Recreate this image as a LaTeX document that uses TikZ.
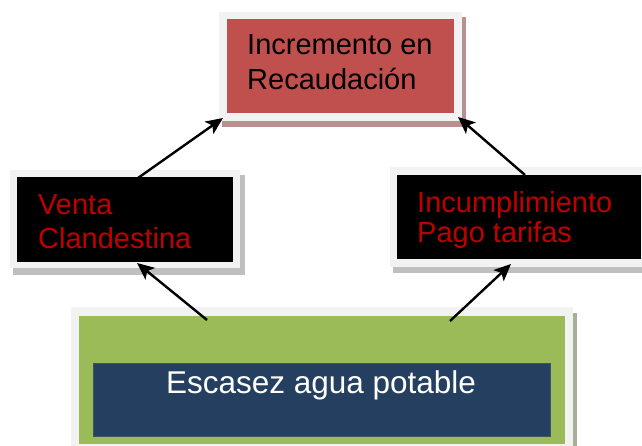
\documentclass[tikz,border=0pt]{standalone}
\usepackage{fontspec}
\setmainfont{Liberation Sans}
\usetikzlibrary{arrows.meta}
\definecolor{framegray}{HTML}{F2F2F2}
\definecolor{boxred}{HTML}{C0504D}
\definecolor{redshadow}{HTML}{B89090}
\definecolor{grayshadow}{HTML}{BFBFBF}
\definecolor{boxgreen}{HTML}{9BBB59}
\definecolor{greenshadow}{HTML}{A7B094}
\definecolor{boxblue}{HTML}{243F60}
\definecolor{textred}{HTML}{C00000}
\tikzset{
  framebox/.style={fill=framegray, draw=none, inner sep=0pt, outer sep=0pt},
  innerbox/.style={draw=none, inner sep=0pt, outer sep=0pt},
  lbl/.style={anchor=base west, inner sep=0pt, font=\fontsize{29}{33}\selectfont},
  conn/.style={line width=2.4pt, -{Stealth[length=17pt,width=15pt,inset=4pt]}}
}
\begin{document}
\begin{tikzpicture}[x=1pt,y=-1pt]
\useasboundingbox (0,0) rectangle (642,446);
\clip (0,0) rectangle (642,446);
\fill[white] (0,0) rectangle (642,446);
% top box
\fill[redshadow] (222,17) rectangle (466,127);
\node[framebox, minimum width=243pt, minimum height=109pt] (topframe) at (340.5,66.5) {};
\node[innerbox, fill=boxred, minimum width=227pt, minimum height=94pt] (topbox) at (340.5,66) {};
\node[lbl] (t1) at (247,55) {Incremento en};
\node[lbl] (t2) at (247,90) {Recaudación};
% left box
\fill[grayshadow] (13,175) rectangle (245,275);
\node[framebox, minimum width=230pt, minimum height=98pt] (leftframe) at (125,219) {};
\node[innerbox, fill=black, minimum width=216pt, minimum height=85pt] (leftbox) at (125,219.5) {};
\node[lbl, text=textred] (l1) at (38,215) {Venta};
\node[lbl, text=textred] (l2) at (38,248) {Clandestina};
% right box
\fill[grayshadow] (393,172) rectangle (660,273);
\node[framebox, minimum width=262pt, minimum height=100pt] (rightframe) at (521,217) {};
\node[innerbox, fill=black, minimum width=244pt, minimum height=84pt] (rightbox) at (519,217) {};
\node[lbl, text=textred] (r1) at (417,213) {Incumplimiento};
\node[lbl, text=textred] (r2) at (417,243) {Pago tarifas};
% bottom box
\fill[greenshadow] (75,313) rectangle (577,470);
\node[framebox, minimum width=502pt, minimum height=153pt] (botframe) at (322,383.5) {};
\node[innerbox, fill=boxgreen, minimum width=486pt, minimum height=128pt] (botbox) at (322,380) {};
\node[innerbox, fill=boxblue, draw=boxblue!70!gray, line width=0.6pt, minimum width=457pt, minimum height=73pt] (bluebox) at (321.5,399.5) {};
\node[anchor=base, inner sep=0pt, text=white, font=\fontsize{31.5}{36}\selectfont] (b1) at (321,393) {Escasez agua potable};
% connectors
\coordinate (a1s) at (207,320); \coordinate (a1e) at (137,263);
\coordinate (a2s) at (450,321); \coordinate (a2e) at (511,264);
\coordinate (a3s) at (138,178); \coordinate (a3e) at (223,118);
\coordinate (a4s) at (525,175); \coordinate (a4e) at (458,117);
\draw[conn] (a1s) -- (a1e);
\draw[conn] (a2s) -- (a2e);
\draw[conn] (a3s) -- (a3e);
\draw[conn] (a4s) -- (a4e);
\end{tikzpicture}
\end{document}
